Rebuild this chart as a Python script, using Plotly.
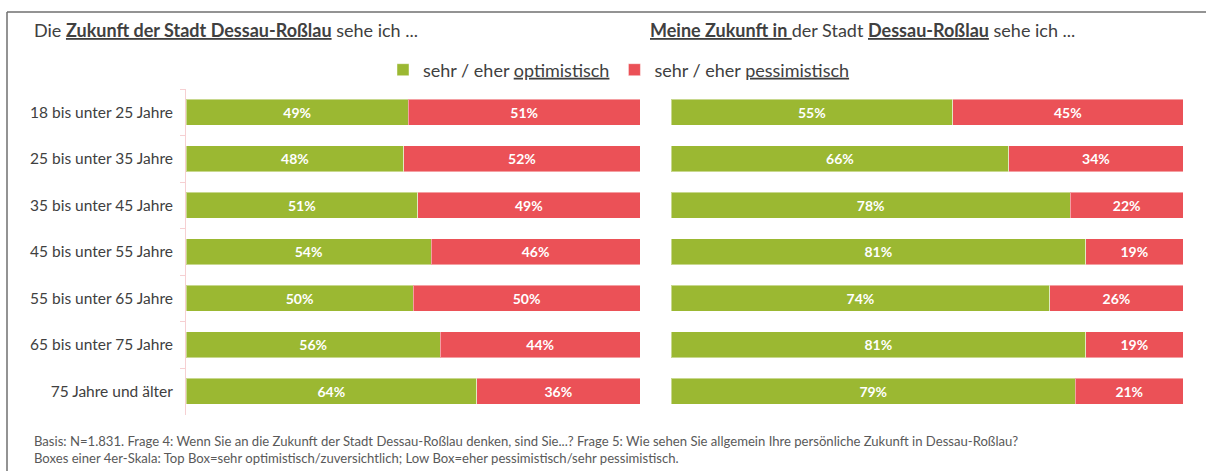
import plotly.graph_objects as go

ages = ["18 bis unter 25 Jahre", "25 bis unter 35 Jahre", "35 bis unter 45 Jahre",
        "45 bis unter 55 Jahre", "55 bis unter 65 Jahre", "65 bis unter 75 Jahre",
        "75 Jahre und älter"]
city_opt = [49, 48, 51, 54, 50, 56, 64]
city_pes = [51, 52, 49, 46, 50, 44, 36]
own_opt = [55, 66, 78, 81, 74, 81, 79]
own_pes = [45, 34, 22, 19, 26, 19, 21]

GREEN = "#9BB832"
RED = "#EB5157"
TXT = "#404040"
FONT = "Lato"
W, H = 1206, 471

def px(x):
    return x / W

def py(y):
    return 1 - y / H

fig = go.Figure()
common = dict(orientation="h", textposition="inside", insidetextanchor="middle",
              texttemplate="<b>%{x}%</b>", textfont=dict(color="white", size=14, family=FONT),
              marker_line=dict(color="rgba(255,255,255,0.45)", width=1), hoverinfo="skip")
fig.add_trace(go.Bar(y=ages, x=city_opt, marker_color=GREEN, name="sehr / eher <u>optimistisch</u>",
                     xaxis="x", yaxis="y", legendgroup="o", **common))
fig.add_trace(go.Bar(y=ages, x=city_pes, marker_color=RED, name="sehr / eher <u>pessimistisch</u>",
                     xaxis="x", yaxis="y", legendgroup="p", **common))
fig.add_trace(go.Bar(y=ages, x=own_opt, marker_color=GREEN, showlegend=False,
                     xaxis="x2", yaxis="y2", **common))
fig.add_trace(go.Bar(y=ages, x=own_pes, marker_color=RED, showlegend=False,
                     xaxis="x2", yaxis="y2", **common))

ydom = [py(414.5), py(89)]
fig.update_layout(
    width=W, height=H, margin=dict(l=0, r=0, t=0, b=0),
    paper_bgcolor="white", plot_bgcolor="white",
    barmode="stack", bargap=0.44,
    font=dict(family=FONT, color=TXT),
    xaxis=dict(domain=[px(186), px(640)], range=[0, 100], visible=False),
    xaxis2=dict(domain=[px(671), px(1183)], range=[0, 100], visible=False),
    yaxis=dict(domain=ydom, autorange="reversed", type="category",
               showline=True, linecolor="#F6D0D2", linewidth=1,
               ticks="outside", tickson="boundaries", ticklen=5, tickcolor="#F6D0D2",
               ticklabelstandoff=9, tickfont=dict(size=15.5, color=TXT, family=FONT),
               showgrid=False, zeroline=False),
    yaxis2=dict(domain=ydom, autorange="reversed", type="category", anchor="x2",
                showticklabels=False, showline=False, ticks="", showgrid=False, zeroline=False),
    legend=dict(orientation="h", x=px(619), xanchor="center", y=py(70), yanchor="middle",
                font=dict(size=18, color=TXT, family=FONT), traceorder="normal",
                itemwidth=30),
    shapes=[
        dict(type="line", xref="paper", yref="paper", x0=px(7), x1=1, y0=py(12), y1=py(12),
             line=dict(color="#6f6f6f", width=1.5)),
        dict(type="line", xref="paper", yref="paper", x0=px(7), x1=px(7), y0=py(12), y1=0,
             line=dict(color="#6f6f6f", width=1.5)),
    ],
    annotations=[
        dict(xref="paper", yref="paper", x=px(32), y=py(30), xanchor="left", yanchor="middle",
             showarrow=False, font=dict(size=18, color=TXT, family=FONT),
             text="Die <b><u>Zukunft der Stadt Dessau-Roßlau</u></b> sehe ich ..."),
        dict(xref="paper", yref="paper", x=px(648), y=py(30), xanchor="left", yanchor="middle",
             showarrow=False, font=dict(size=18, color=TXT, family=FONT),
             text="<b><u>Meine Zukunft in </u></b>der Stadt <b><u>Dessau-Roßlau</u></b> sehe ich ..."),
        dict(xref="paper", yref="paper", x=px(32), y=py(449), xanchor="left", yanchor="middle",
             showarrow=False, align="left", font=dict(size=13.1, color="#595959", family=FONT),
             text="Basis: N=1.831. Frage 4: Wenn Sie an die Zukunft der Stadt Dessau-Roßlau denken, sind Sie...? "
                  "Frage 5: Wie sehen Sie allgemein Ihre persönliche Zukunft in Dessau-Roßlau?<br>"
                  "Boxes einer 4er-Skala: Top Box=sehr optimistisch/zuversichtlich; Low Box=eher pessimistisch/sehr pessimistisch."),
    ],
)

fig.write_html("out.html", config={"displayModeBar": False},
               post_script="document.body.style.margin='0';document.body.style.overflow='hidden';")
